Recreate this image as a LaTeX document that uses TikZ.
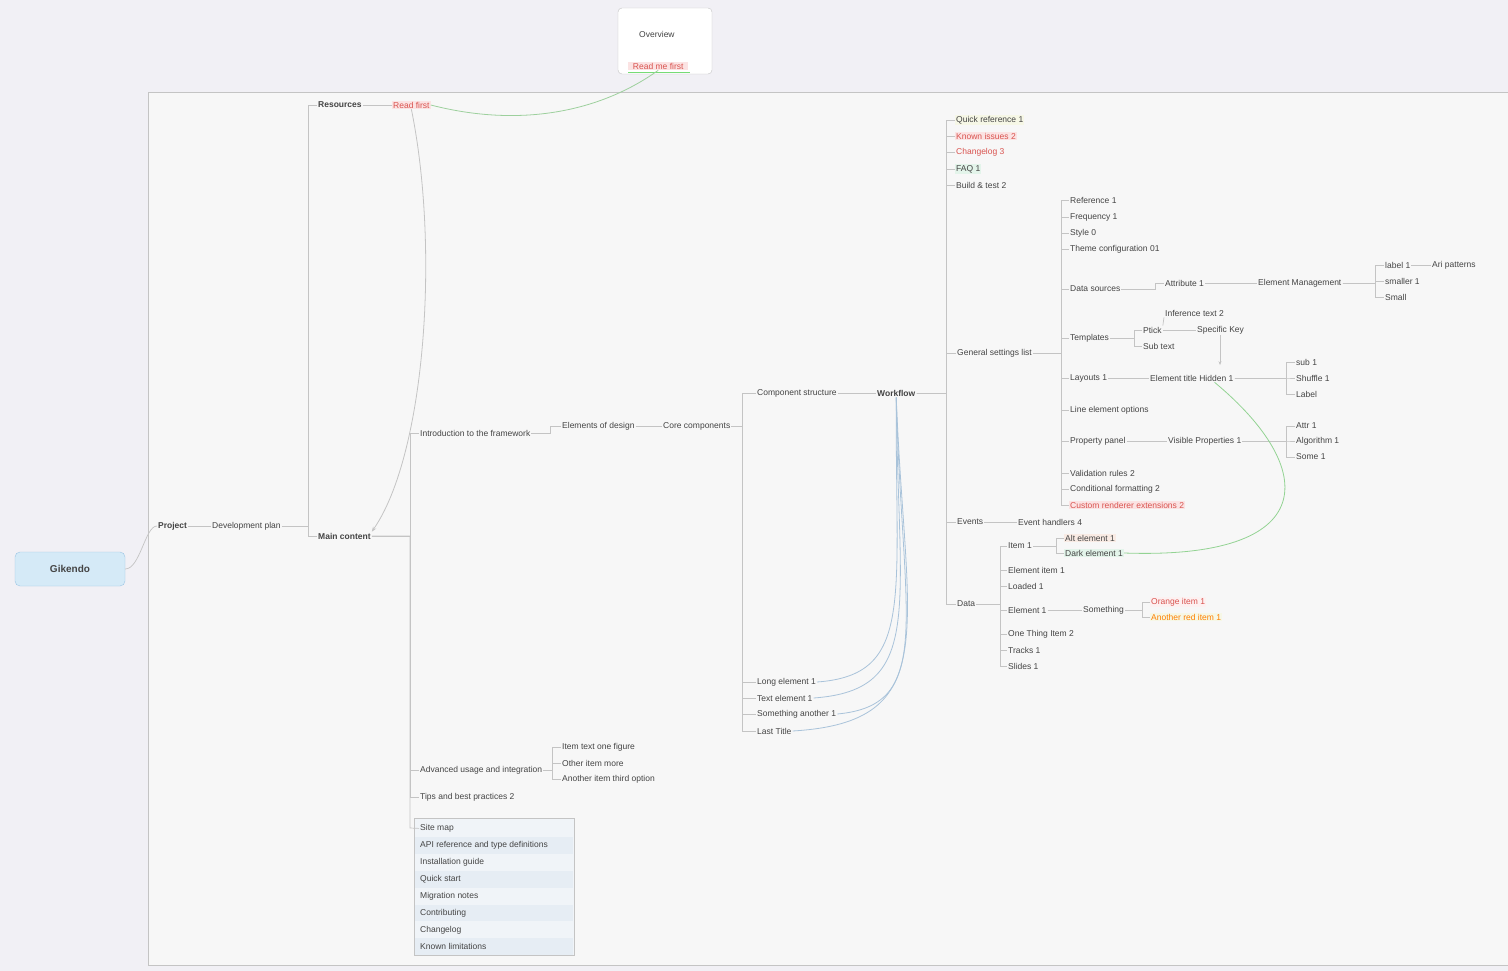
\documentclass[tikz,border=0pt]{standalone}
\usepackage{fontspec}
\setmainfont{Liberation Sans}
\usetikzlibrary{calc,arrows.meta}
\definecolor{bgc}{HTML}{F1F0F5}
\definecolor{panel}{HTML}{F7F7F7}
\definecolor{linec}{HTML}{C4C4C4}
\definecolor{txt}{HTML}{444444}
\definecolor{redt}{HTML}{D9534F}
\definecolor{pinkbg}{HTML}{FBE3E3}
\definecolor{greenbg}{HTML}{E3F4EA}
\definecolor{yelbg}{HTML}{F6F7E6}
\definecolor{bluec}{HTML}{A9C3DA}
\definecolor{rootfill}{HTML}{D5EAF7}
\definecolor{rootdraw}{HTML}{9CC6E4}
\definecolor{rowa}{HTML}{E6EDF4}
\definecolor{rowb}{HTML}{F0F4F8}
\tikzset{
  t/.style={anchor=west,inner sep=1pt,text=txt,font=\fontsize{8.5}{9}\selectfont},
  tb/.style={t,font=\fontsize{8.5}{9}\selectfont\bfseries},
  tr/.style={t,text=redt,fill=pinkbg},
  tg/.style={t,fill=greenbg},
  ty/.style={t,fill=yelbg},
  conn/.style={draw=linec,line width=0.7pt},
  rel/.style={draw=bluec,line width=0.8pt},
}
\newcommand\br[3]{\draw[conn] let \p1=(#1.east), \p2=(#3.west) in (\p1) -- (#2pt,\y1) -- (#2pt,\y2) -- (\p2);}
\begin{document}
\begin{tikzpicture}[x=1pt,y=-1pt]
\useasboundingbox (0,0) rectangle (1508,971);
\fill[bgc] (0,0) rectangle (1508,971);
\filldraw[fill=panel,draw=linec,line width=0.7pt] (148,92) rectangle (1508,965);
% top box
\filldraw[fill=white,draw=linec,rounded corners=4pt] (618,8) rectangle (712,74);
\node[t] (ov) at (638,34) {Overview};
\node[t,text=redt,fill=pinkbg,minimum width=60pt] (topred) at (628,66) {Read me first};
\draw[green!40!linec,line width=1pt] (628,73) -- (690,73);
% root
\node[draw=rootdraw,fill=rootfill,rounded corners=5pt,minimum width=110pt,minimum height=34pt,font=\fontsize{10}{12}\selectfont\bfseries,text=txt] (root) at (70,569) {Gikendo};
\node[tb] (proj) at (157,526) {Project};
\node[t] (dev) at (211,526) {Development plan};
\draw[conn] (root.east) .. controls +(15,0) and +(-12,0) .. (proj.west);
\draw[conn] (proj.east) -- (dev.west);
\node[tb] (res) at (317,105) {Resources};
\node[tr] (read) at (392,105) {Read first};
\node[tb] (main) at (317,536) {Main content};
\br{dev}{308}{res}
\br{dev}{308}{main}
\draw[conn] (res.east) -- (read.west);
\draw[draw=linec!80!green,line width=0.8pt] (read.east) .. controls (520,128) and (600,112) .. (topred.south);
\draw[conn,line width=0.8pt,-{Stealth[length=5pt]}] (read.south) .. controls (440,250) and (425,455) .. (main.north east);
% main children
\node[t] (intro) at (419,433) {Introduction to the framework};
\node[t] (more) at (419,770) {Advanced usage and integration};
\node[t] (tsth) at (419,797) {Tips and best practices 2};
\br{main}{410}{intro}
\br{main}{410}{more}
\br{main}{410}{tsth}
% list box
\filldraw[fill=rowb,draw=linec] (414,818) rectangle (574,955);
\foreach \i/\s in {0/Site map,1/API reference and type definitions,2/Installation guide,3/Quick start,4/Migration notes,5/Contributing,6/Changelog,7/Known limitations}{
  \pgfmathsetmacro\yy{820+\i*16.9}
  \ifodd\i\fill[rowa] (415,\yy) rectangle (573,\yy+16.9);\fi
  \node[t] (L\i) at (419,\yy+8.4) {\s};
}
\draw[conn] (main.east) -- (410pt,-536pt) -- (410pt,-828pt) -- (L0.west);
\node[t] (m1) at (561,747) {Item text one figure};
\node[t] (m2) at (561,763) {Other item more};
\node[t] (m3) at (561,779) {Another item third option};
\br{more}{552}{m1}\br{more}{552}{m2}\br{more}{552}{m3}
\node[t] (elem) at (561,426) {Elements of design};
\node[t] (core) at (662,426) {Core components};
\br{intro}{550}{elem}
\draw[conn] (elem.east) -- (core.west);
\node[t] (struct) at (756,393) {Component structure};
\node[tb] (wf) at (876,393) {Workflow};
\node[t] (c1) at (756,682) {Long element 1};
\node[t] (c2) at (756,698) {Text element 1};
\node[t] (c3) at (756,714) {Something another 1};
\node[t] (c4) at (756,731) {Last Title};
\br{core}{742}{struct}
\foreach \c in {c1,c2,c3,c4}{\br{core}{742}{\c}}
\draw[conn] (struct.east) -- (wf.west);
\draw[rel] (wf.south) .. controls (895,600) and (915,675) .. (c1.east);
\draw[rel] (wf.south) .. controls (898,610) and (925,690) .. (c2.east);
\draw[rel] (wf.south) .. controls (902,620) and (935,705) .. (c3.east);
\draw[rel] (wf.south) .. controls (905,630) and (945,722) .. (c4.east);
% workflow children
\node[ty] (q1) at (955,120) {Quick reference 1};
\node[tr] (q2) at (955,136) {Known issues 2};
\node[t,text=redt] (q3) at (955,152) {Changelog 3};
\node[tg] (q4) at (955,169) {FAQ 1};
\node[t] (q5) at (955,185) {Build \& test 2};
\node[t] (gen) at (956,353) {General settings list};
\node[t] (ev) at (956,522) {Events};
\node[t] (ev2) at (1017,522) {Event handlers 4};
\node[t] (data) at (956,604) {Data};
\foreach \c in {q1,q2,q3,q4,q5,gen,ev,data}{\br{wf}{946}{\c}}
\draw[conn] (ev.east) -- (ev2.west);
% general children
\node[t] (g1) at (1069,200) {Reference 1};
\node[t] (g2) at (1069,217) {Frequency 1};
\node[t] (g3) at (1069,233) {Style 0};
\node[t] (g4) at (1069,249) {Theme configuration 01};
\node[t] (g5) at (1069,289) {Data sources};
\node[t] (g6) at (1069,338) {Templates};
\node[t] (g7) at (1069,378) {Layouts 1};
\node[t] (g8) at (1069,410) {Line element options};
\node[t] (g9) at (1069,441) {Property panel};
\node[t] (g10) at (1069,473) {Validation rules 2};
\node[t] (g11) at (1069,489) {Conditional formatting 2};
\node[tr] (g12) at (1069,505) {Custom renderer extensions 2};
\foreach \c in {g1,g2,g3,g4,g5,g6,g7,g8,g9,g10,g11,g12}{\br{gen}{1061}{\c}}
% data sources branch
\node[t] (ds1) at (1164,283) {Attribute 1};
\node[t] (ds2) at (1257,283) {Element Management};
\node[t] (ds3) at (1384,265) {label 1};
\node[t] (ds4) at (1431,265) {Ari patterns};
\node[t] (ds5) at (1384,281) {smaller 1};
\node[t] (ds6) at (1384,297) {Small};
\br{g5}{1155}{ds1}
\draw[conn] (ds1.east) -- (ds2.west);
\br{ds2}{1375}{ds3}\br{ds2}{1375}{ds5}\br{ds2}{1375}{ds6}
\draw[conn] (ds3.east) -- (ds4.west);
% templates branch
\node[t] (tp0) at (1164,313) {Inference text 2};
\node[t] (tp1) at (1142,330) {Ptick};
\node[t] (tp2) at (1142,346) {Sub text};
\node[t] (tp3) at (1196,330) {Specific Key};
\br{g6}{1134}{tp1}\br{g6}{1134}{tp2}
\draw[conn] (tp0.south west) -- (tp1.north east);
\draw[conn] (tp1.east) -- (tp3.west);
% layouts branch
\node[t] (ly1) at (1149,378) {Element title Hidden 1};
\node[t] (ly2) at (1295,362) {sub 1};
\node[t] (ly3) at (1295,378) {Shuffle 1};
\node[t] (ly4) at (1295,394) {Label};
\draw[conn] (g7.east) -- (ly1.west);
\br{ly1}{1286}{ly2}\br{ly1}{1286}{ly3}\br{ly1}{1286}{ly4}
\draw[conn,-{Stealth[length=4pt]}] (tp3.south west) ++(24,0) -- ++(0,30);
% property branch
\node[t] (pp1) at (1167,441) {Visible Properties 1};
\node[t] (pp2) at (1295,426) {Attr 1};
\node[t] (pp3) at (1295,441) {Algorithm 1};
\node[t] (pp4) at (1295,457) {Some 1};
\draw[conn] (g9.east) -- (pp1.west);
\br{pp1}{1286}{pp2}\br{pp1}{1286}{pp3}\br{pp1}{1286}{pp4}
% data children
\node[t] (d1) at (1007,546) {Item 1};
\node[t] (d2) at (1007,570) {Element item 1};
\node[t] (d3) at (1007,586) {Loaded 1};
\node[t] (d4) at (1007,610) {Element 1};
\node[t] (d5) at (1007,634) {One Thing Item 2};
\node[t] (d6) at (1007,650) {Tracks 1};
\node[t] (d7) at (1007,666) {Slides 1};
\foreach \c in {d1,d2,d3,d4,d5,d6,d7}{\br{data}{1000}{\c}}
\node[t,fill=pinkbg!60!yelbg] (a1) at (1064,538) {Alt element 1};
\node[tg] (a2) at (1064,553) {Dark element 1};
\br{d1}{1056}{a1}\br{d1}{1056}{a2}
\node[t] (e1) at (1082,610) {Something};
\node[t,text=redt,fill=pinkbg!50] (e2) at (1150,602) {Orange item 1};
\node[t,text=orange,fill=yelbg] (e3) at (1150,617) {Another red item 1};
\draw[conn] (d4.east) -- (e1.west);
\br{e1}{1142}{e2}\br{e1}{1142}{e3}
% green relationship
\draw[draw=green!25!linec,line width=0.8pt] (ly1.south east) ++(-20,0) .. controls (1320,470) and (1320,560) .. (a2.east);
\end{tikzpicture}
\end{document}
